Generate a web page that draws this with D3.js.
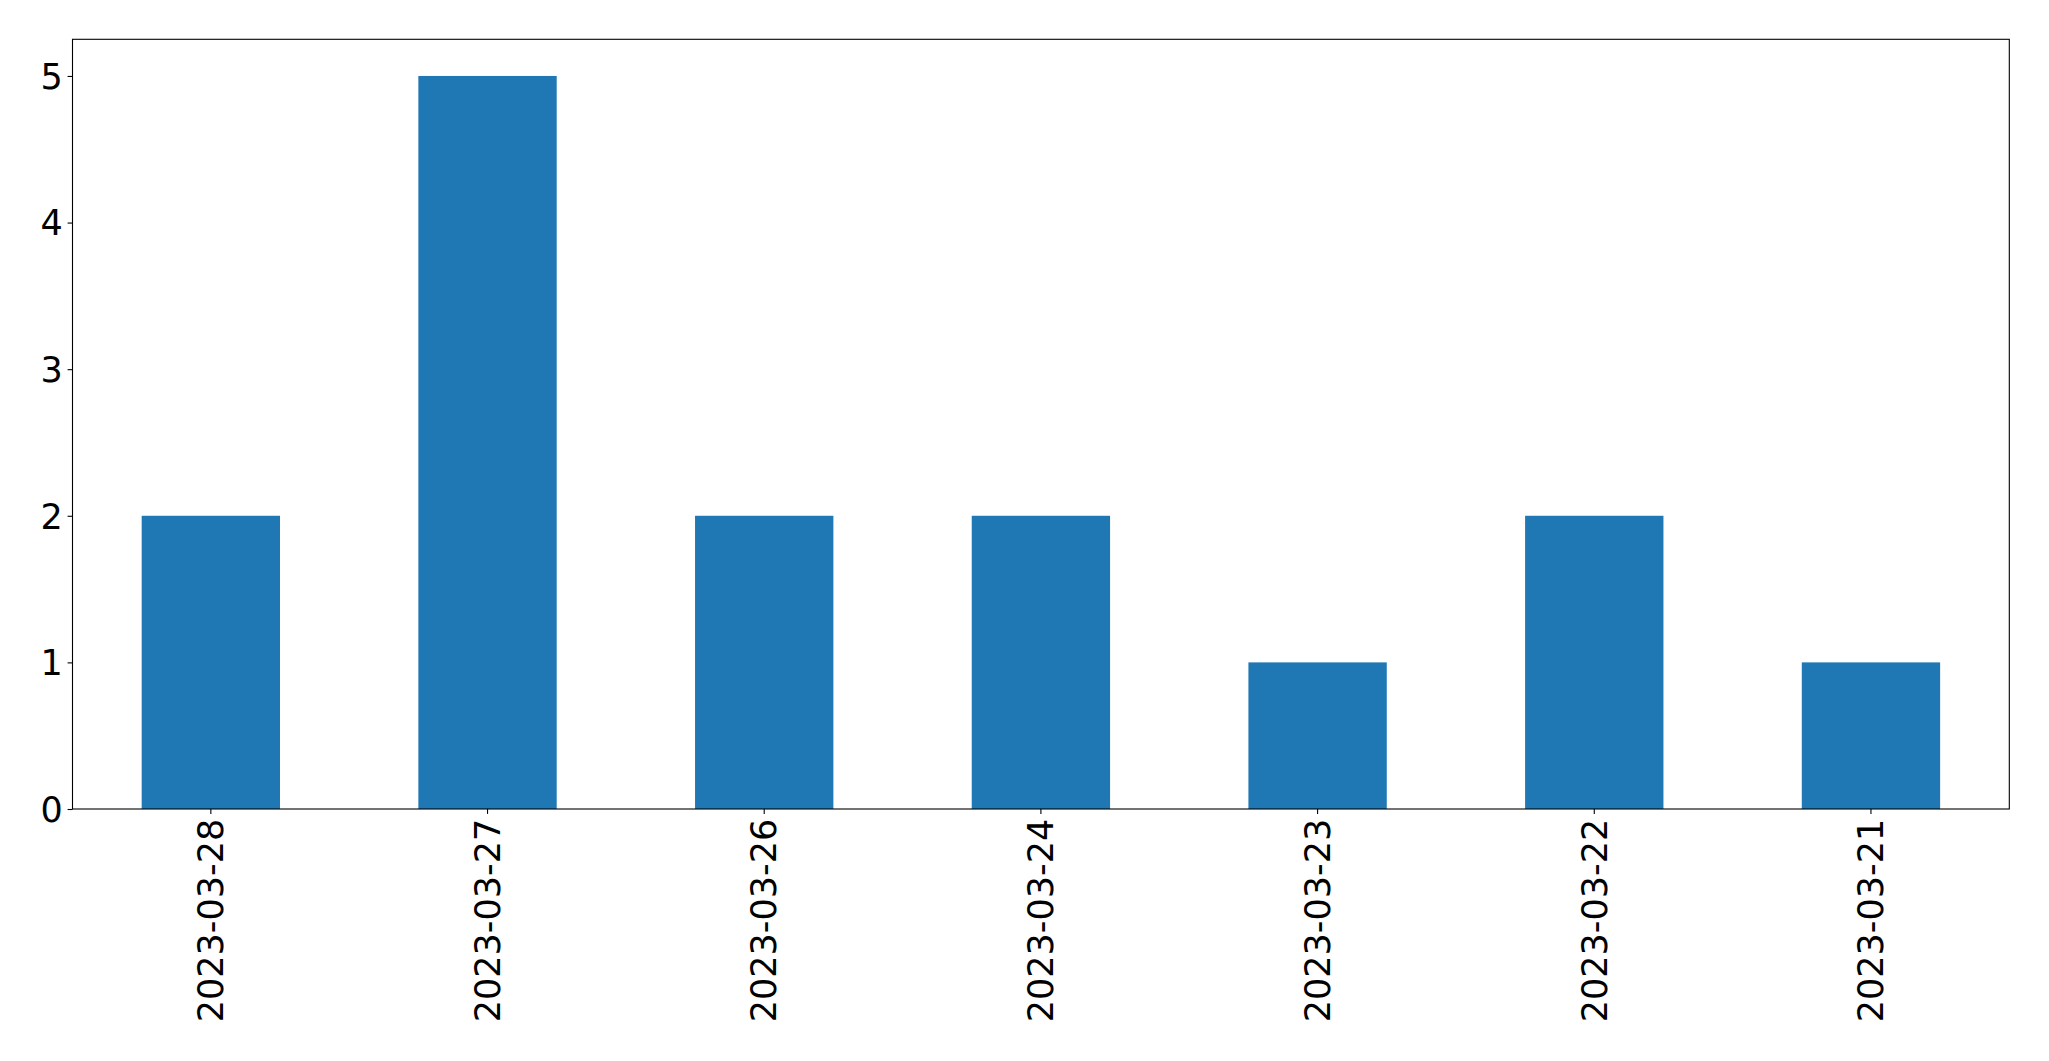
<!DOCTYPE html>
<html>
<head>
<meta charset="utf-8">
<script src="https://cdn.jsdelivr.net/npm/d3@7"></script>
<style>
  html, body { margin: 0; padding: 0; background: #fff; }
  svg { display: block; }
  text { font-family: "DejaVu Sans", sans-serif; fill: #000; }
</style>
</head>
<body>
<script>
const categories = ["2023-03-28", "2023-03-27", "2023-03-26", "2023-03-24", "2023-03-23", "2023-03-22", "2023-03-21"];
const values = [2, 5, 2, 2, 1, 2, 1];
const yTicks = [0, 1, 2, 3, 4, 5];

(function () {
const W = 2049, H = 1061;
const mLeft = 72.5, mRight = 2009.3, mTop = 39.3, mBottom = 809;
const fontSize = 35;

const svg = d3.select("body").append("svg").attr("width", W).attr("height", H);

const x = d3.scaleBand().domain(categories).range([mLeft, mRight]).paddingInner(0.5).paddingOuter(0.25);
const y = d3.scaleLinear().domain([0, 5.25]).range([mBottom, mTop]);

svg.append("g").selectAll("rect").data(values).join("rect")
  .attr("x", (d, i) => x(categories[i]))
  .attr("width", x.bandwidth())
  .attr("y", d => y(d))
  .attr("height", d => y(0) - y(d))
  .attr("fill", "#1f77b4");

// frame
svg.append("rect").attr("x", mLeft).attr("y", mTop).attr("width", mRight - mLeft).attr("height", mBottom - mTop)
  .attr("fill", "none").attr("stroke", "#000").attr("stroke-width", 1.1);

// y axis
const ya = svg.append("g").attr("transform", `translate(${mLeft},0)`)
  .call(d3.axisLeft(y).tickValues(yTicks).tickFormat(d3.format("d")).tickSize(4.9).tickPadding(4.9));
ya.select(".domain").remove();
ya.selectAll("line").attr("stroke", "#000").attr("stroke-width", 1.1);
ya.selectAll("text").attr("font-size", fontSize).attr("font-family", "DejaVu Sans, sans-serif").attr("dy", "0.35em");

// x axis
const xa = svg.append("g").attr("transform", `translate(0,${mBottom})`)
  .call(d3.axisBottom(x).tickSize(4.9).tickPadding(0));
xa.select(".domain").remove();
xa.selectAll("line").attr("stroke", "#000").attr("stroke-width", 1.1);
xa.selectAll("text")
  .attr("font-size", fontSize)
  .attr("font-family", "DejaVu Sans, sans-serif")
  .attr("text-anchor", "end")
  .attr("x", 0).attr("y", 0)
  .attr("dy", "0.35em")
  .attr("transform", "translate(0,9.8) rotate(-90)");
})();
</script>
</body>
</html>
